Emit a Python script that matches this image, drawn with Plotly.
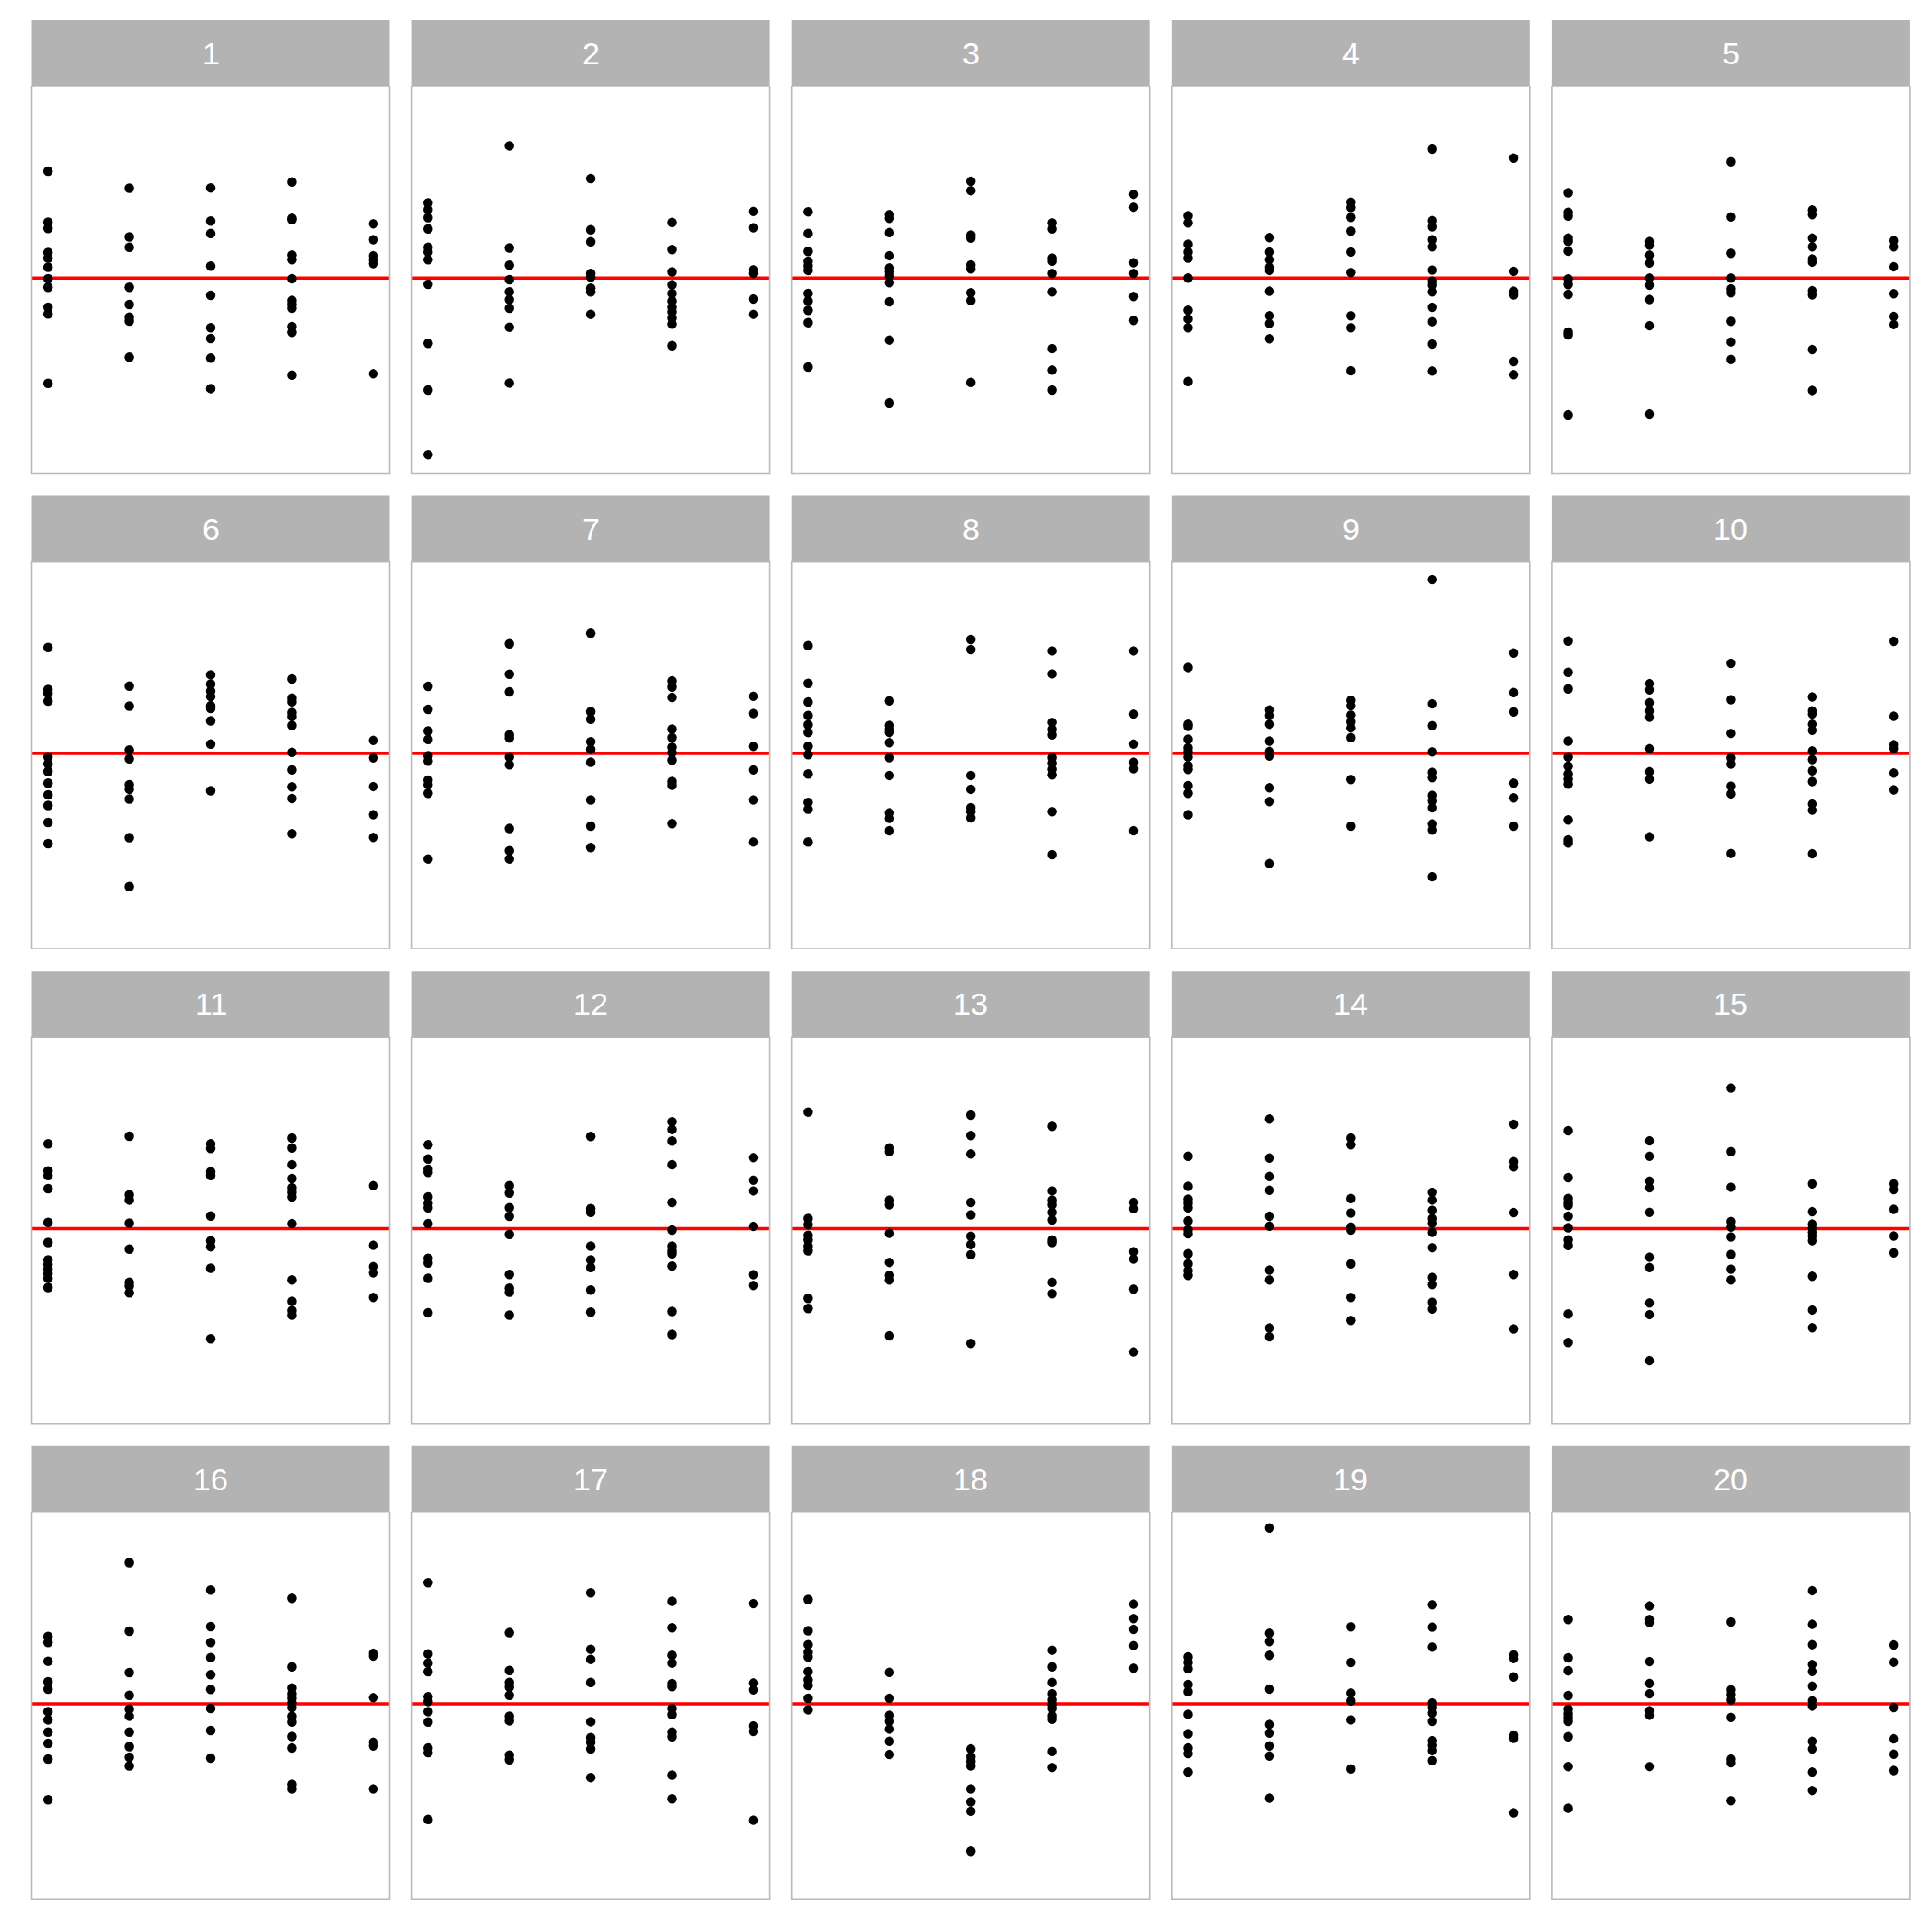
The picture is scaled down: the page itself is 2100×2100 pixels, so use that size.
import plotly.graph_objects as go

# x positions of the five groups
groups = [1, 2, 3, 4, 5]
panel_labels = [str(i) for i in range(1, 21)]

# values per panel: one list per group (1..5)
panel_01 = [[3.48, 1.82, 1.62, 0.83, 0.65, 0.35, -0.02, -0.30, -0.95, -1.17, -3.43],
            [2.93, 1.34, 1.00, -0.30, -0.86, -1.27, -1.40, -2.58],
            [2.94, 1.86, 1.45, 0.39, -0.56, -1.62, -1.97, -2.61, -3.60],
            [3.13, 1.95, 1.90, 0.75, 0.60, -0.02, -0.73, -0.85, -0.98, -1.58, -1.77, -3.16],
            [1.77, 1.25, 0.73, 0.59, 0.47, -3.12]]
panel_02 = [[2.45, 2.23, 1.97, 1.60, 1.00, 0.85, 0.60, -0.20, -2.13, -3.65, -5.75],
            [4.31, 0.98, 0.42, -0.05, -0.45, -0.70, -0.98, -1.60, -3.42],
            [3.24, 1.57, 1.18, 0.15, 0.03, -0.33, -0.45, -1.18],
            [1.81, 0.93, 0.20, -0.22, -0.50, -0.75, -0.95, -1.10, -1.30, -1.50, -2.20],
            [2.17, 1.64, 0.27, 0.15, -0.68, -1.18]]
panel_03 = [[2.16, 1.45, 0.87, 0.55, 0.40, 0.25, -0.50, -0.75, -1.05, -1.45, -2.90],
            [2.07, 1.95, 1.48, 0.73, 0.33, 0.20, 0.07, -0.15, -0.77, -2.02, -4.07],
            [3.15, 2.85, 1.40, 1.30, 0.43, 0.30, -0.48, -0.73, -3.40],
            [1.80, 1.60, 0.65, 0.55, 0.15, -0.45, -2.30, -3.00, -3.65],
            [2.73, 2.31, 0.50, 0.15, -0.60, -1.38]]
panel_04 = [[2.03, 1.80, 1.10, 0.85, 0.65, 0.00, -1.05, -1.33, -1.62, -3.37],
            [1.32, 0.85, 0.60, 0.35, 0.25, -0.43, -1.23, -1.48, -1.98],
            [2.47, 2.30, 1.98, 1.53, 0.85, 0.18, -1.23, -1.62, -3.02],
            [4.20, 1.87, 1.67, 1.25, 1.02, 0.26, -0.10, -0.23, -0.45, -0.95, -1.42, -2.15, -3.03],
            [3.91, 0.22, -0.43, -0.55, -2.72, -3.15]]
panel_05 = [[2.78, 2.14, 2.02, 1.30, 1.20, 0.88, -0.03, -0.21, -0.53, -1.76, -1.85, -4.46],
            [1.19, 1.07, 0.75, 0.49, 0.00, -0.23, -0.70, -1.55, -4.43],
            [3.79, 1.99, 0.81, 0.00, -0.35, -0.48, -1.41, -2.08, -2.65],
            [2.22, 2.07, 1.30, 1.02, 0.62, 0.52, -0.41, -0.55, -2.33, -3.66],
            [1.22, 1.02, 0.37, -0.51, -1.25, -1.51]]
panel_06 = [[3.45, 2.08, 1.96, 1.70, -0.12, -0.34, -0.59, -0.97, -1.35, -1.70, -2.25, -2.94],
            [2.19, 1.54, 0.11, -0.18, -1.02, -1.17, -1.49, -2.75, -4.34],
            [2.56, 2.26, 2.03, 1.85, 1.55, 1.46, 1.06, 0.30, -1.22],
            [2.42, 1.80, 1.68, 1.33, 1.20, 0.91, 0.03, -0.54, -1.09, -1.47, -2.62],
            [0.42, -0.15, -1.08, -2.00, -2.74]]
panel_07 = [[2.18, 1.43, 0.73, 0.45, -0.08, -0.25, -0.87, -1.02, -1.30, -3.44],
            [3.57, 2.58, 2.00, 0.60, 0.50, -0.12, -0.37, -2.45, -3.17, -3.44],
            [3.91, 1.36, 1.11, 0.38, 0.13, -0.29, -1.52, -2.37, -3.07],
            [2.36, 2.16, 1.82, 0.79, 0.51, 0.20, 0.02, -0.22, -0.92, -1.04, -2.29],
            [1.86, 1.30, 0.23, -0.54, -1.52, -2.89]]
panel_08 = [[3.51, 2.28, 1.67, 1.23, 0.93, 0.68, 0.23, -0.04, -0.67, -1.60, -1.82, -2.89],
            [1.71, 0.91, 0.78, 0.68, 0.35, -0.14, -0.72, -1.94, -2.12, -2.52],
            [3.71, 3.38, -0.72, -1.17, -1.77, -1.90, -2.10],
            [3.34, 2.59, 1.01, 0.78, 0.60, -0.14, -0.32, -0.52, -0.70, -1.90, -3.30],
            [3.34, 1.28, 0.30, -0.29, -0.50, -2.52]]
panel_09 = [[2.80, 0.95, 0.88, 0.46, 0.18, 0.05, -0.12, -0.40, -0.52, -1.05, -1.30, -2.00],
            [1.41, 1.23, 0.95, 0.40, 0.06, -0.09, -1.12, -1.57, -3.59],
            [1.73, 1.55, 1.25, 1.03, 0.83, 0.51, -0.85, -2.37],
            [5.66, 1.61, 0.90, 0.05, -0.62, -0.79, -1.37, -1.55, -1.77, -2.30, -2.50, -4.02],
            [3.27, 1.98, 1.35, -0.97, -1.45, -2.37]]
panel_10 = [[3.66, 2.64, 2.10, 0.40, -0.12, -0.42, -0.67, -0.84, -1.00, -2.17, -2.82, -2.92],
            [2.27, 2.07, 1.65, 1.38, 1.18, 0.15, -0.60, -0.84, -2.72],
            [2.93, 1.75, 0.65, -0.15, -0.35, -1.07, -1.32, -3.26],
            [1.84, 1.38, 1.28, 0.95, 0.75, 0.08, -0.20, -0.57, -0.92, -1.65, -1.85, -3.27],
            [3.65, 1.21, 0.28, 0.16, -0.64, -1.19]]
panel_11 = [[2.76, 1.88, 1.73, 1.30, 0.20, -0.45, -1.02, -1.17, -1.32, -1.47, -1.62, -1.92],
            [3.01, 1.10, 0.93, 0.18, -0.67, -1.75, -1.87, -2.09],
            [2.76, 2.61, 1.85, 1.73, 0.41, -0.40, -0.59, -1.29, -3.59],
            [2.95, 2.63, 2.08, 1.63, 1.33, 1.18, 1.03, 0.16, -1.67, -2.37, -2.67, -2.82],
            [1.40, -0.54, -1.24, -1.44, -2.24]]
panel_12 = [[2.73, 2.27, 1.93, 1.83, 1.03, 0.83, 0.68, 0.16, -0.97, -1.12, -1.62, -2.74],
            [1.40, 1.16, 0.68, 0.40, -0.19, -1.49, -1.94, -2.07, -2.82],
            [3.00, 0.65, 0.53, -0.57, -1.02, -1.27, -2.00, -2.72],
            [3.48, 3.23, 2.85, 2.08, 0.85, -0.05, -0.57, -0.72, -0.82, -1.22, -2.70, -3.45],
            [2.31, 1.58, 1.23, 0.07, -1.50, -1.85]]
panel_13 = [[3.80, 0.33, 0.13, -0.22, -0.37, -0.57, -0.72, -2.27, -2.60],
            [2.63, 2.51, 0.93, 0.78, -0.15, -1.10, -1.52, -1.67, -3.49],
            [3.70, 3.03, 2.43, 0.85, 0.45, -0.25, -0.52, -0.85, -3.74],
            [3.33, 1.23, 0.93, 0.78, 0.53, 0.28, -0.37, -0.45, -1.75, -2.12],
            [0.85, 0.65, -0.75, -0.99, -1.97, -4.02]]
panel_14 = [[2.36, 1.38, 0.96, 0.83, 0.68, 0.25, -0.04, -0.17, -0.82, -1.15, -1.37, -1.52],
            [3.57, 2.30, 1.70, 1.25, 0.40, 0.08, -1.35, -1.67, -3.24, -3.52],
            [2.95, 2.73, 0.98, 0.51, 0.05, -0.05, -1.15, -2.24, -2.99],
            [1.18, 0.93, 0.60, 0.33, 0.18, -0.12, -0.62, -1.59, -1.82, -2.40, -2.62],
            [3.40, 2.18, 2.01, 0.52, -1.49, -3.27]]
panel_15 = [[3.19, 1.66, 0.98, 0.85, 0.76, 0.40, 0.03, -0.37, -0.55, -2.78, -3.71],
            [2.86, 2.36, 1.55, 1.33, 0.53, -0.93, -1.27, -2.42, -2.80, -4.30],
            [4.58, 2.51, 1.35, 0.23, 0.05, -0.27, -0.84, -1.32, -1.67],
            [1.46, 0.55, 0.15, 0.01, -0.12, -0.25, -0.39, -1.55, -2.65, -3.23],
            [1.46, 1.27, 0.63, -0.24, -0.79]]
panel_16 = [[2.20, 2.00, 1.39, 0.72, 0.48, -0.25, -0.52, -0.92, -1.29, -1.80, -3.12],
            [4.60, 2.37, 1.02, 0.28, -0.17, -0.40, -0.92, -1.39, -1.74, -2.02],
            [3.71, 2.52, 2.00, 1.51, 0.95, 0.47, -0.15, -0.87, -1.77],
            [3.44, 1.21, 0.52, 0.33, 0.18, 0.03, -0.12, -0.40, -0.59, -1.06, -1.44, -2.62, -2.77],
            [1.65, 1.56, 0.20, -1.25, -1.37, -2.77]]
panel_17 = [[3.95, 1.63, 1.33, 1.05, 0.23, 0.08, -0.25, -0.59, -1.44, -1.59, -3.77],
            [2.32, 1.09, 0.70, 0.55, 0.28, -0.40, -0.55, -1.67, -1.82],
            [3.62, 1.78, 1.45, 0.70, -0.58, -1.10, -1.25, -1.47, -2.40],
            [3.34, 2.48, 1.58, 1.33, 0.66, 0.56, -0.15, -0.35, -0.92, -1.07, -2.32, -3.09],
            [3.27, 0.68, 0.46, -0.72, -0.90, -3.79]]
panel_18 = [[3.40, 2.38, 1.93, 1.68, 1.53, 1.05, 0.78, 0.60, 0.18, -0.19],
            [1.03, 0.18, -0.37, -0.57, -0.82, -1.22, -1.65],
            [-1.47, -1.72, -1.87, -2.02, -2.77, -3.19, -3.50, -4.80],
            [1.75, 1.21, 0.70, 0.33, 0.13, -0.02, -0.15, -0.39, -0.50, -1.55, -2.07],
            [3.25, 2.78, 2.43, 1.90, 1.16]]
panel_19 = [[1.53, 1.35, 1.15, 0.63, 0.40, -0.34, -0.97, -1.44, -1.62, -2.22],
            [5.73, 2.30, 2.03, 1.58, 0.48, -0.67, -0.95, -1.37, -1.70, -3.07],
            [2.51, 1.35, 0.35, 0.10, -0.52, -2.12],
            [3.23, 2.50, 1.85, 0.03, -0.12, -0.30, -0.57, -1.20, -1.35, -1.52, -1.85],
            [1.60, 1.48, 0.88, -1.02, -1.12, -3.55]]
panel_20 = [[2.75, 1.50, 1.08, 0.27, -0.17, -0.32, -0.45, -0.57, -1.07, -2.04, -3.40],
            [3.19, 2.75, 2.65, 1.38, 0.67, 0.33, -0.22, -0.37, -2.04],
            [2.67, 0.46, 0.30, 0.13, -0.44, -1.80, -1.92, -3.15],
            [3.69, 2.59, 1.93, 1.28, 1.06, 0.58, 0.10, -0.07, -1.22, -1.47, -2.22, -2.82],
            [1.92, 1.36, -0.12, -1.14, -1.64, -2.17]]

panels = [panel_01, panel_02, panel_03, panel_04, panel_05,
          panel_06, panel_07, panel_08, panel_09, panel_10,
          panel_11, panel_12, panel_13, panel_14, panel_15,
          panel_16, panel_17, panel_18, panel_19, panel_20]

ref_value = 0.0

# ---- layout geometry (pixels) ----
W = H = 2100
col_left0, col_step, panel_w = 34.5, 413.1, 389.0
row_top0, row_step, panel_h, strip_h = 94.0, 516.6, 420.5, 72.0
y_range = [-6.36, 6.24]
x_range = [0.8, 5.2]
strip_color = "#b3b3b3"
border_color = "#bababa"

fig = go.Figure()
shapes = []
annotations = []
layout_axes = {}

for i, (label, pdata) in enumerate(zip(panel_labels, panels)):
    n = i + 1
    r, c = divmod(i, 5)
    left = col_left0 + c * col_step
    top = row_top0 + r * row_step
    xd = [left / W, (left + panel_w) / W]
    yd = [1 - (top + panel_h) / H, 1 - top / H]
    sfx = "" if n == 1 else str(n)
    xa, ya = f"x{sfx}", f"y{sfx}"

    layout_axes[f"xaxis{sfx}"] = dict(domain=xd, range=x_range, visible=False,
                                      showgrid=False, zeroline=False, anchor=ya)
    layout_axes[f"yaxis{sfx}"] = dict(domain=yd, range=y_range, visible=False,
                                      showgrid=False, zeroline=False, anchor=xa)

    xs, ys = [], []
    for g, vals in zip(groups, pdata):
        xs += [g] * len(vals)
        ys += vals
    fig.add_trace(go.Scatter(x=xs, y=ys, mode="markers", xaxis=xa, yaxis=ya,
                             marker=dict(color="black", size=10.5, line=dict(width=0)),
                             showlegend=False, hoverinfo="skip"))

    # red reference line
    shapes.append(dict(type="line", xref=f"{xa} domain", yref=ya, x0=0, x1=1,
                       y0=ref_value, y1=ref_value, line=dict(color="#ff0000", width=3.6),
                       layer="below"))
    # panel border
    shapes.append(dict(type="rect", xref=f"{xa} domain", yref=f"{ya} domain",
                       x0=0, x1=1, y0=0, y1=1, line=dict(color=border_color, width=1.6),
                       fillcolor="rgba(0,0,0,0)", layer="above"))
    # strip
    shapes.append(dict(type="rect", xref=f"{xa} domain", yref=f"{ya} domain",
                       x0=0, x1=1, y0=1, y1=1 + strip_h / panel_h,
                       line=dict(width=0), fillcolor=strip_color, layer="above"))
    annotations.append(dict(text=label, xref=f"{xa} domain", yref=f"{ya} domain",
                            x=0.5, y=1 + strip_h / panel_h / 2, showarrow=False,
                            xanchor="center", yanchor="middle",
                            font=dict(family="Liberation Sans, Arial, sans-serif",
                                      size=34, color="white")))

fig.update_layout(width=W, height=H, margin=dict(l=0, r=0, t=0, b=0),
                  paper_bgcolor="white", plot_bgcolor="white",
                  shapes=shapes, annotations=annotations, showlegend=False,
                  **layout_axes)

fig.write_html("out.html")
